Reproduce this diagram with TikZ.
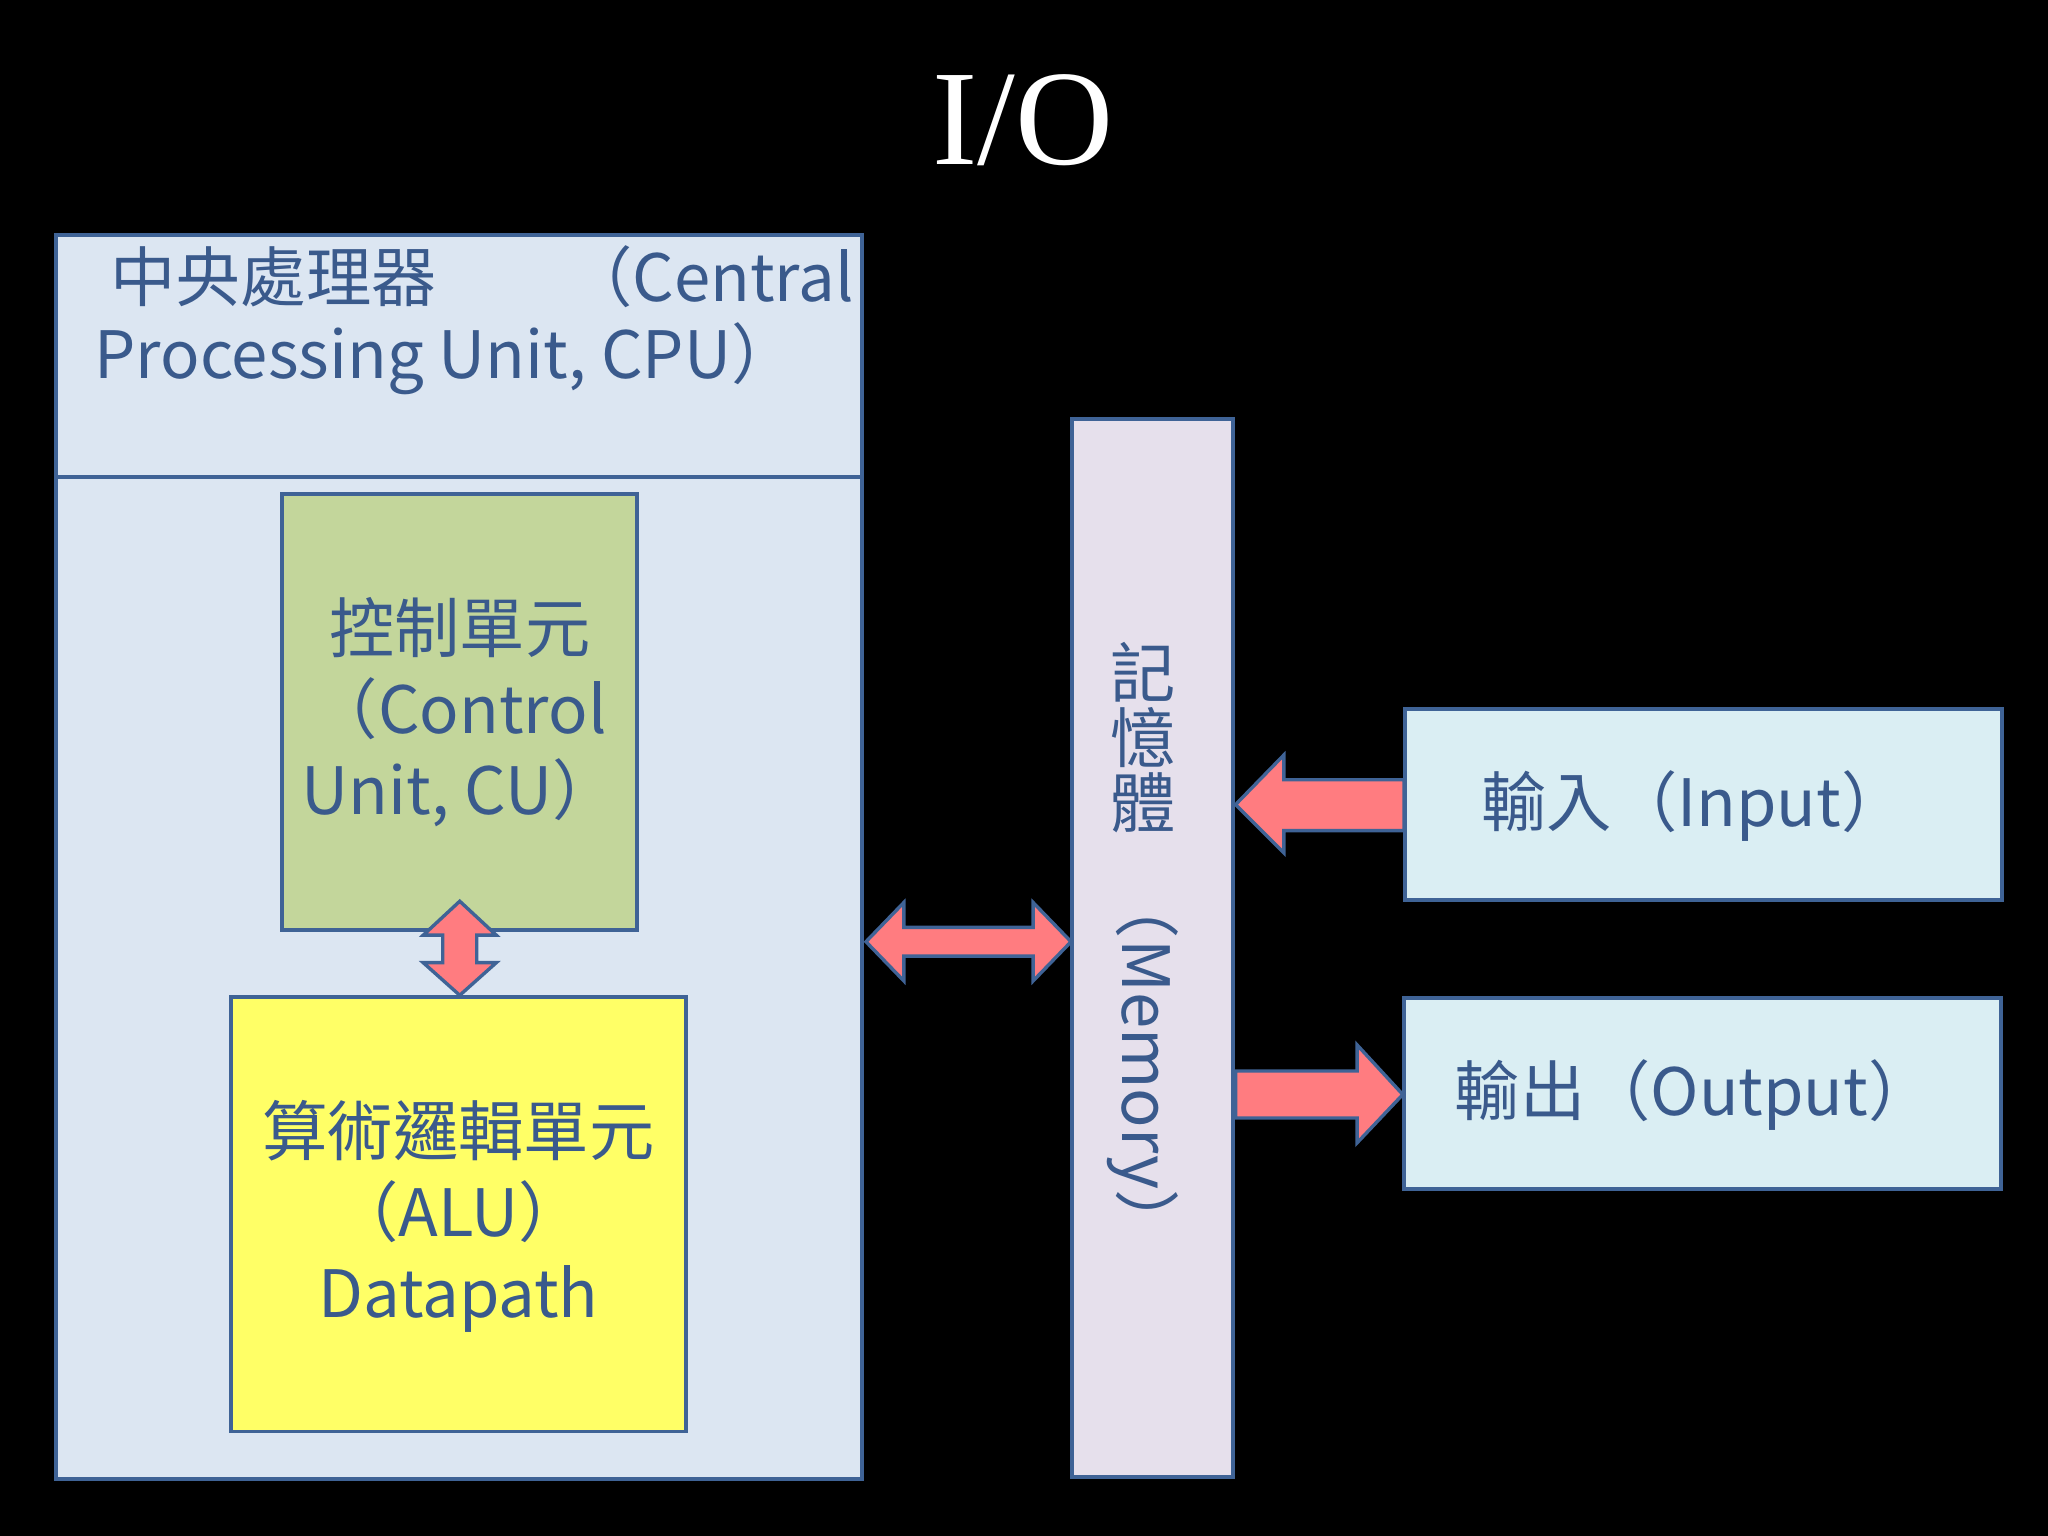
\documentclass[tikz,border=0pt]{standalone}
\usepackage{fontspec}
\setmainfont{Noto Sans CJK TC}
\newfontfamily\titlefont{Liberation Serif}
\begin{document}
\begin{tikzpicture}[x=0.5pt,y=-0.5pt,
  box/.style={draw=bdr,line width=1.5pt},
  txt/.style={text=tc,font=\fontsize{25}{31}\selectfont,align=center,inner sep=0pt},
  fat/.style={fill=arr,draw=bdr,line width=1.3pt,line join=miter}]
\definecolor{bdr}{HTML}{3F6396}
\definecolor{tc}{HTML}{3A5A8C}
\definecolor{arr}{HTML}{FF7C80}
\definecolor{cpuf}{HTML}{DCE6F2}
\definecolor{cuf}{HTML}{C3D69B}
\definecolor{aluf}{HTML}{FFFF66}
\definecolor{memf}{HTML}{E6E0EC}
\definecolor{iof}{HTML}{DAEEF3}
\fill[black] (0,0) rectangle (1568,1176);
\useasboundingbox (0,0) rectangle (1568,1176);
\node[text=white,font=\titlefont\fontsize{52}{52}\selectfont] (title) at (783,92) {I/O};
% CPU
\draw[box,fill=cpuf] (43,180) rectangle (660,1132);
\draw[box] (43,365) -- (660,365);
\node[txt,anchor=west] (cpu1) at (84,212) {中央處理器　　（Central};
\node[txt,anchor=west] (cpu2) at (72,275) {Processing Unit, CPU）};
% CU
\draw[box,fill=cuf] (216,378) rectangle (488,712);
\node[txt] (cu) at (352,545) {控制單元\\（Control\\Unit, CU）};
% ALU
\draw[box,fill=aluf] (177,763) rectangle (525,1096);
\node[txt] (alu) at (351,931) {算術邏輯單元\\（ALU）\\Datapath};
% CU<->ALU arrow
\draw[fat] (352,690) -- (380,716) -- (365,716) -- (365,737) -- (380,737) -- (352,762)
  -- (324,737) -- (339,737) -- (339,716) -- (324,716) -- cycle;
% CPU<->Memory arrow
\draw[fat] (663,721) -- (692,691) -- (692,710) -- (791,710) -- (791,691) -- (820,721)
  -- (791,751) -- (791,732) -- (692,732) -- (692,751) -- cycle;
% Memory
\draw[box,fill=memf] (821,321) rectangle (944,1131);
\node[txt] (m1) at (875,515) {記};
\node[txt] (m2) at (875,565) {憶};
\node[txt] (m3) at (875,615) {體};
\node[txt,rotate=-90] (m4) at (875,815) {（Memory）};
% Input / Output
\draw[box,fill=iof] (1076,543) rectangle (1533,689);
\node[txt] (in) at (1297,617) {輸入（Input）};
\draw[box,fill=iof] (1075,764) rectangle (1532,910);
\node[txt] (out) at (1297,838) {輸出（Output）};
% Input arrow
\draw[fat] (946,616) -- (983,578) -- (983,597) -- (1075,597) -- (1075,636) -- (983,636) -- (983,653) -- cycle;
% Output arrow
\draw[fat] (1074,838) -- (1039,800) -- (1039,820) -- (946,820) -- (946,856) -- (1039,856) -- (1039,875) -- cycle;
\end{tikzpicture}
\end{document}
